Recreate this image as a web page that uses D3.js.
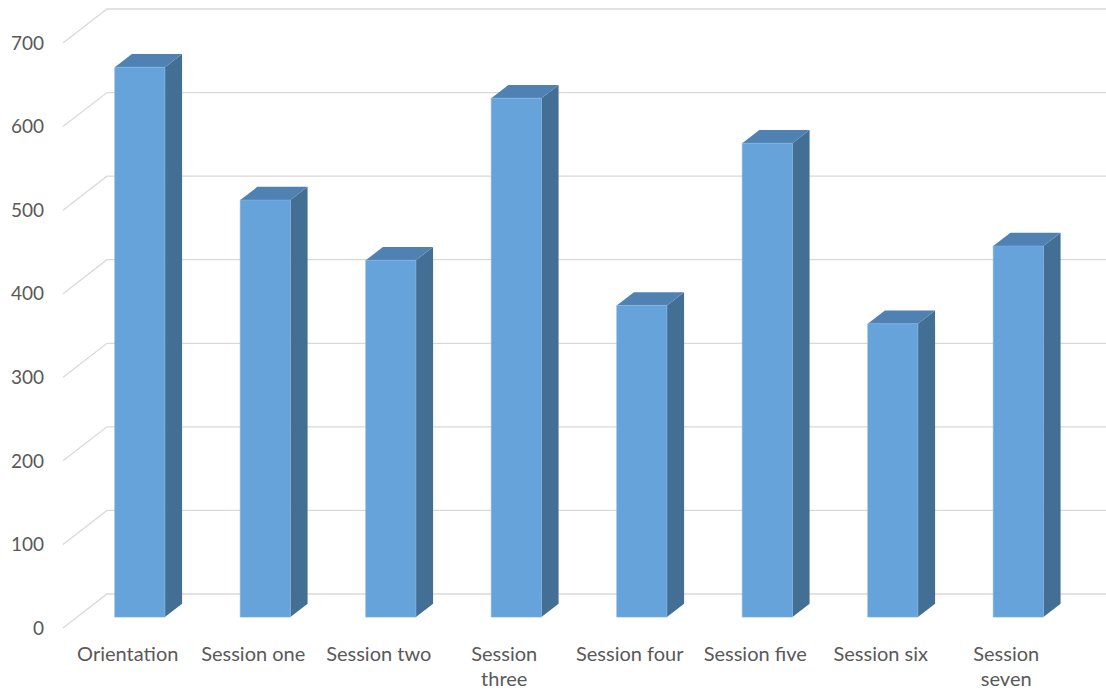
<!DOCTYPE html>
<html>
<head>
<meta charset="utf-8">
<script src="https://cdn.jsdelivr.net/npm/d3@7"></script>
<style>
  html, body { margin: 0; padding: 0; background: #ffffff; }
  svg { display: block; }
  text { font-family: Lato, "Liberation Sans", sans-serif; fill: #595959; }
</style>
</head>
<body>
<svg id="chart" width="1106" height="692"></svg>
<script>
// Attendance per session
const categories = ["Orientation", "Session one", "Session two", "Session three",
                    "Session four", "Session five", "Session six", "Session seven"];
const values = [658, 499, 427, 621, 373, 567, 351, 444];
const yTicks = [0, 100, 200, 300, 400, 500, 600, 700];

const W = 1106, H = 692;
const svg = d3.select("#chart");

// Floor geometry: front-left corner of the floor and the oblique depth vector
const x0 = 63, floorY = 628;
const depthX = 44, depthY = 34;       // full depth of the plot box
const frontD = 0.32, backD = 0.71;    // bar front / back planes as fraction of depth

const x = d3.scaleBand()
  .domain(categories)
  .range([x0, x0 + 8 * 125.5])
  .paddingInner(0.6)
  .paddingOuter(0.3);

const h = d3.scaleLinear().domain([0, 700]).range([0, 585]);

// project a point on the floor plane (px) at a value and depth fraction
const P = (px, v, d) => [px + d * depthX, floorY - h(v) - d * depthY];

const grid = svg.append("g").attr("stroke", "#d9d9d9").attr("stroke-width", 1.3).attr("fill", "none");
yTicks.forEach(t => {
  const a = P(x0, t, 0), b = P(x0, t, 1), c = P(x.range()[1] + 60, t, 1);
  grid.append("path").attr("d", d3.line()([a, b, c]));
});

// y tick labels
svg.append("g").selectAll("text").data(yTicks).join("text")
  .attr("x", 44)
  .attr("y", d => P(x0, d, 0)[1])
  .attr("dy", "0.35em")
  .attr("text-anchor", "end")
  .attr("font-size", 19)
  .text(d => d);

// bars
const bars = svg.append("g");
categories.forEach((c, i) => {
  const v = values[i];
  const L = x(c), R = x(c) + x.bandwidth();
  const fBL = P(L, 0, frontD), fBR = P(R, 0, frontD), fTL = P(L, v, frontD), fTR = P(R, v, frontD);
  const bBR = P(R, 0, backD), bTL = P(L, v, backD), bTR = P(R, v, backD);
  const line = d3.line();
  // side face
  bars.append("path").attr("d", line([fBR, fTR, bTR, bBR]) + "Z").attr("fill", "#436f95");
  // top face
  bars.append("path").attr("d", line([fTL, fTR, bTR, bTL]) + "Z").attr("fill", "#4f82b2");
  // front face
  bars.append("path").attr("d", line([fBL, fTL, fTR, fBR]) + "Z")
    .attr("fill", "#66a3da").attr("stroke", "#7fb2e0").attr("stroke-width", 0.6);
});

// category labels, wrapped onto two lines when too wide for the band
const labels = svg.append("g");
categories.forEach(c => {
  const cx = x(c) + x.bandwidth() / 2 + 2;
  const t = labels.append("text").attr("x", cx).attr("y", 661)
    .attr("text-anchor", "middle").attr("font-size", 20).text(c);
  if (t.node().getComputedTextLength() > 110) {
    const words = c.split(" ");
    t.text(null);
    t.append("tspan").attr("x", cx).attr("y", 661).text(words[0]);
    t.append("tspan").attr("x", cx).attr("y", 686).text(words.slice(1).join(" "));
  }
});
</script>
</body>
</html>
